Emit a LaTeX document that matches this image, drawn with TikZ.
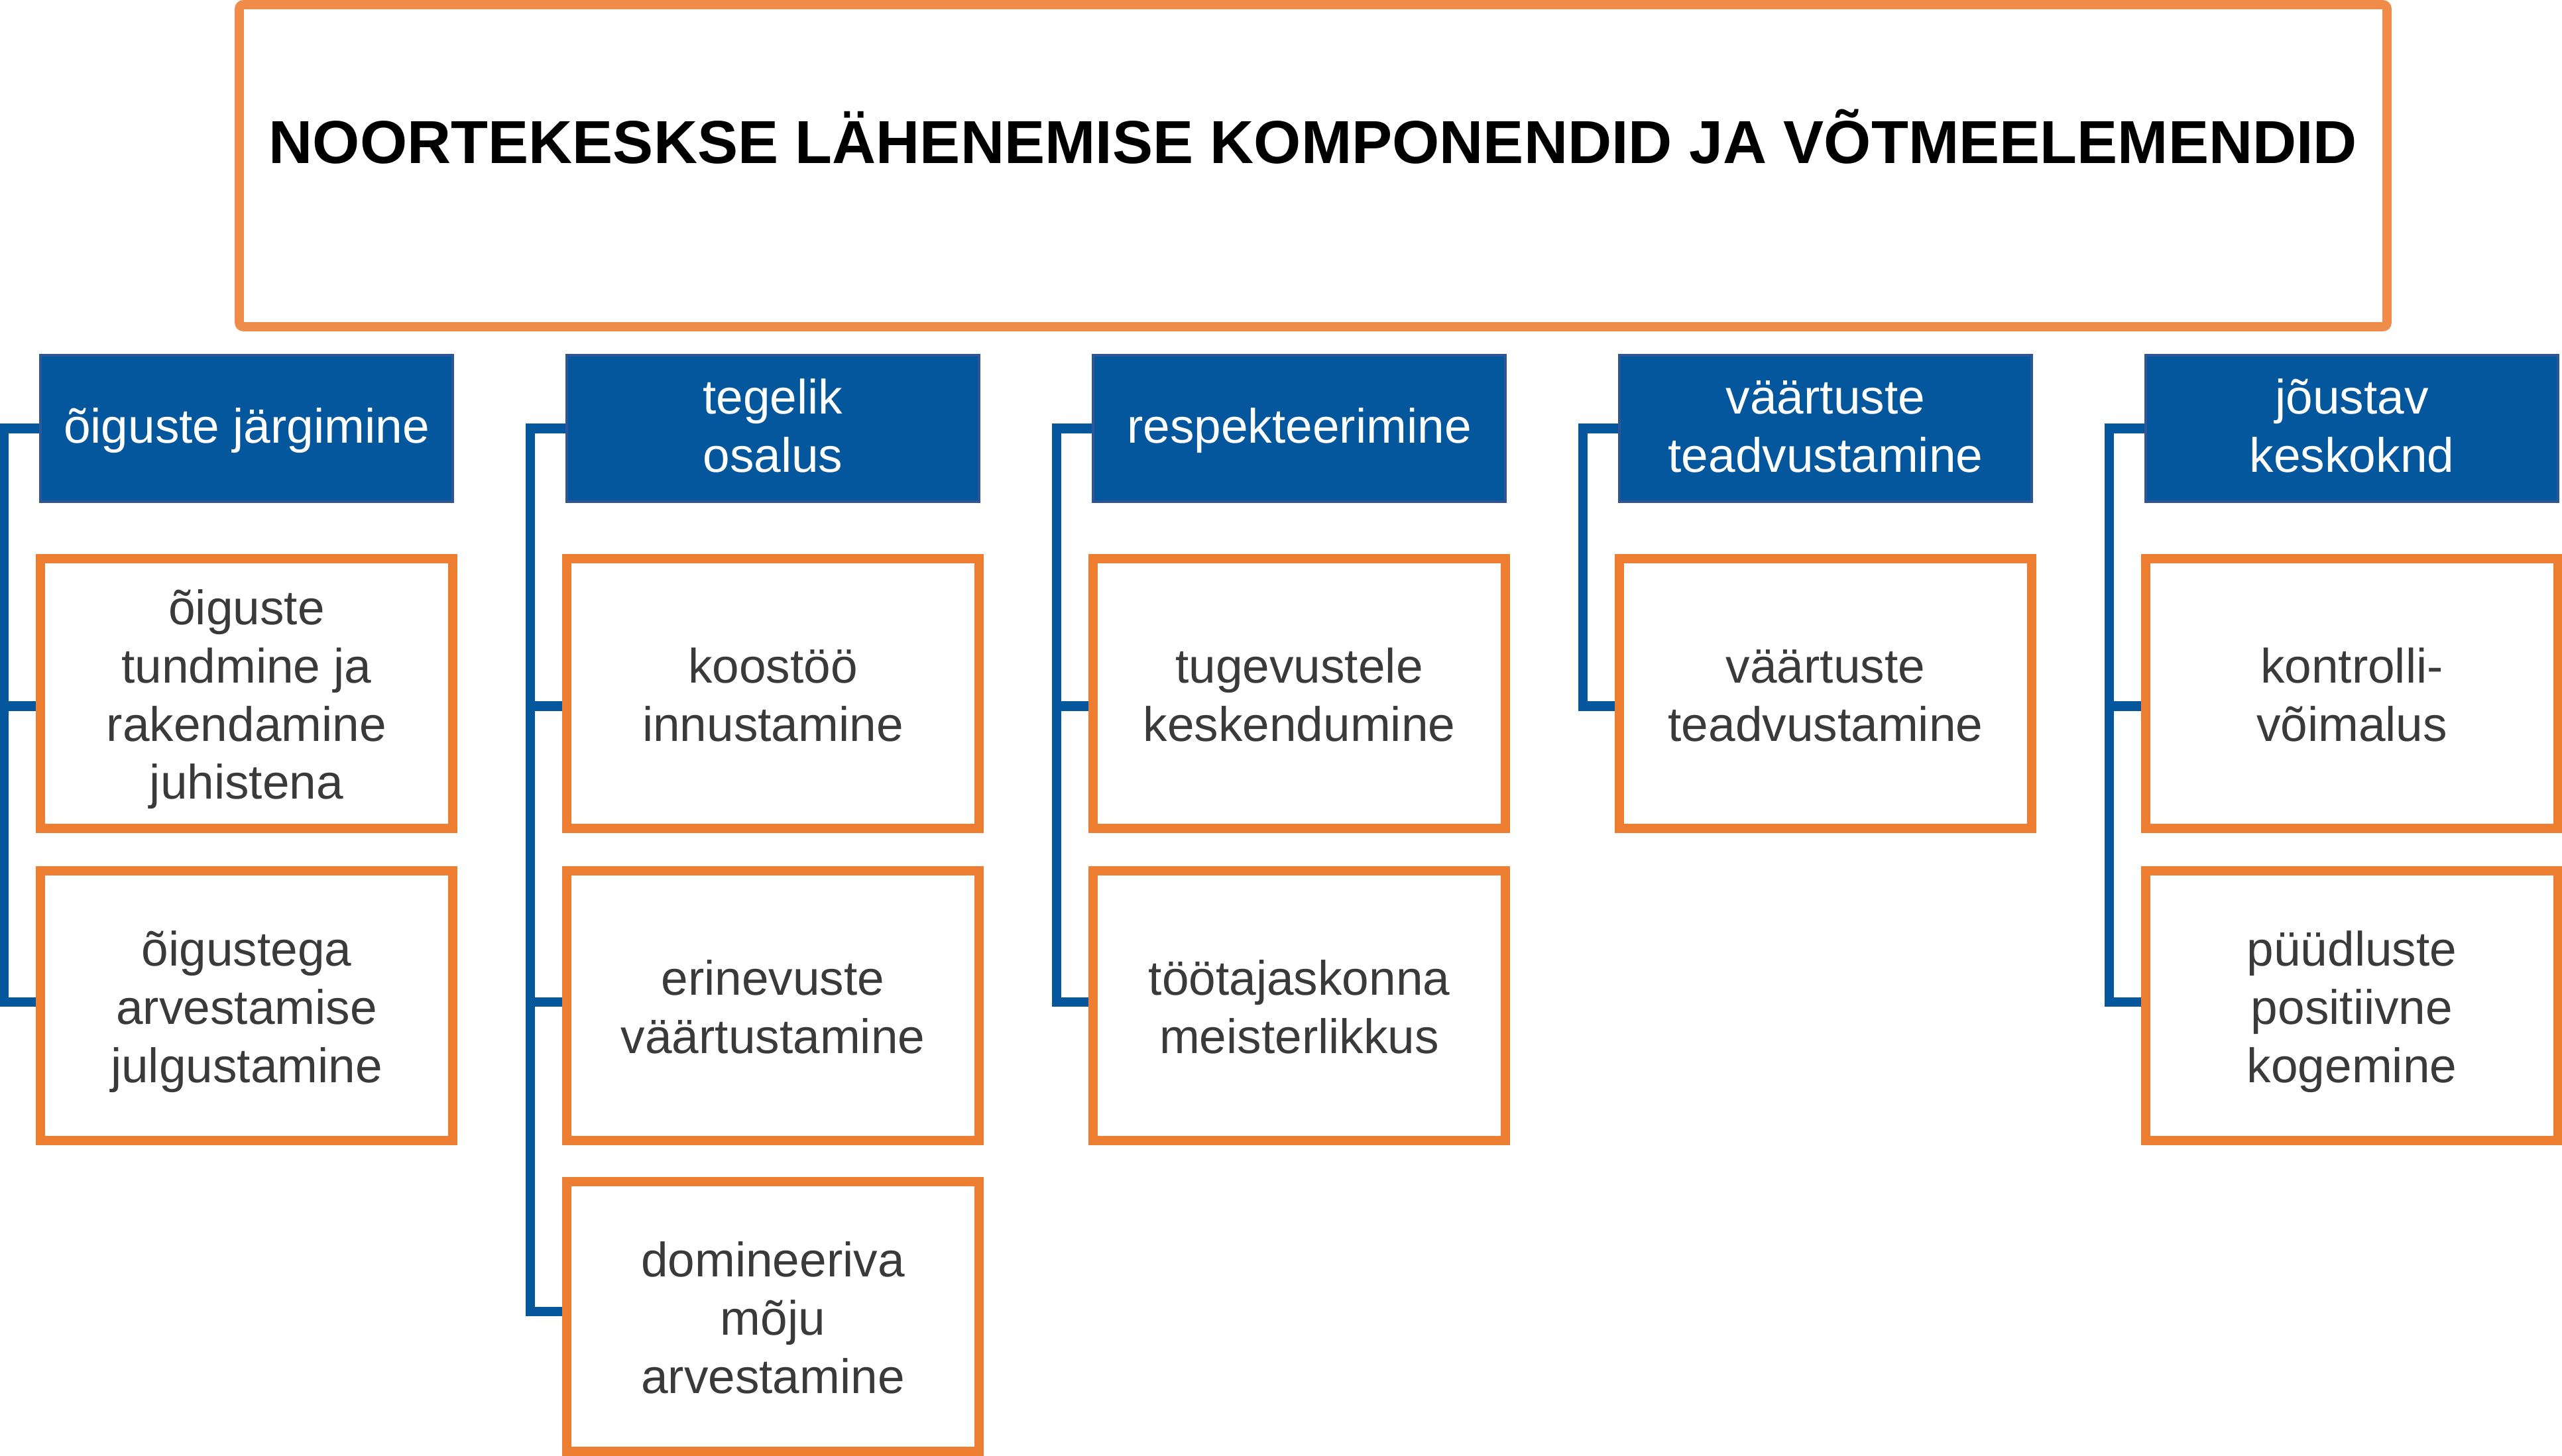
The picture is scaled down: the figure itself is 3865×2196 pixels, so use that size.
\documentclass[tikz,border=0pt]{standalone}
\usepackage{fontspec}
\setmainfont{Liberation Sans}
\definecolor{hdrblue}{HTML}{04569D}
\definecolor{hdrborder}{HTML}{2F5597}
\definecolor{connblue}{HTML}{04569D}
\definecolor{boxorange}{HTML}{ED7D31}
\definecolor{titleorange}{HTML}{F08C4A}
\definecolor{textgrey}{HTML}{3A3A3A}
% struts that fix the vertical centring of the multi-line texts
\newcommand\hdrtop{\rule{0pt}{0.85em}}   % first line of a header
\newcommand\boxtop{\rule{0pt}{1.0em}}    % first line of a box
\newcommand\hdrbot{\rule[-0.25em]{0pt}{0.25em}}
\newcommand\boxbot{\rule[-0.24em]{0pt}{0.24em}}
\begin{document}
\begin{tikzpicture}[x=0.25pt,y=-0.25pt,
  bodyfont/.style={font=\fontsize{18.25}{21.95}\selectfont},
  hdr/.style={draw=hdrborder, line width=1pt, fill=hdrblue, text=white,
    minimum width=155.5pt, minimum height=55.25pt, inner sep=0pt, align=center, bodyfont,
    execute at end node=\hdrbot},
  obox/.style={draw=boxorange, line width=3.5pt, fill=white, text=textgrey,
    minimum width=155.5pt, minimum height=101.75pt, inner sep=0pt, align=center, bodyfont,
    execute at end node=\boxbot},
  conn/.style={draw=connblue, line width=3.6pt},
  titlebox/.style={draw=titleorange, line width=3.4pt, rounded corners=1.5pt,
    minimum width=810pt, minimum height=121.5pt, inner sep=0pt}]
\useasboundingbox (0,0) rectangle (3865,2196);

% title
\node[titlebox] (T) at (1981,250) {};
\node[anchor=base, inner sep=0pt, font=\fontsize{22.9}{27}\selectfont\bfseries] (Tt) at (1981,246)
  {NOORTEKESKSE LÄHENEMISE KOMPONENDID JA VÕTMEELEMENDID};

% headers
\node[hdr] (h1) at (372,646.5) {\hdrtop õiguste järgimine};
\node[hdr] (h2) at (1166,646.5) {\hdrtop tegelik\\osalus};
\node[hdr] (h3) at (1960,646.5) {\hdrtop respekteerimine};
\node[hdr] (h4) at (2754,646.5) {\hdrtop väärtuste\\teadvustamine};
\node[hdr] (h5) at (3548,646.5) {\hdrtop jõustav\\keskoknd};

% boxes
\node[obox] (b11) at (372,1046.5) {\boxtop õiguste\\tundmine ja\\rakendamine\\juhistena};
\node[obox] (b12) at (372,1517.5) {\boxtop õigustega\\arvestamise\\julgustamine};

\node[obox] (b21) at (1166,1046.5) {\boxtop koostöö\\innustamine};
\node[obox] (b22) at (1166,1517.5) {\boxtop erinevuste\\väärtustamine};
\node[obox] (b23) at (1166,1986.5) {\boxtop domineeriva\\mõju\\arvestamine};

\node[obox] (b31) at (1960,1046.5) {\boxtop tugevustele\\keskendumine};
\node[obox] (b32) at (1960,1517.5) {\boxtop töötajaskonna\\meisterlikkus};

\node[obox] (b41) at (2754,1046.5) {\boxtop väärtuste\\teadvustamine};

\node[obox] (b51) at (3548,1046.5) {\boxtop kontrolli-\\võimalus};
\node[obox] (b52) at (3548,1517.5) {\boxtop püüdluste\\positiivne\\kogemine};

% connectors
\draw[conn] (h1.west) -- ++(-53,0) coordinate (v1) |- ([yshift=1.4pt]b12.west);
\draw[conn] ([yshift=-4.75pt]b11.west) -- ([yshift=-4.75pt]b11.west -| v1);

\draw[conn] (h2.west) -- ++(-53,0) coordinate (v2) |- ([yshift=1.9pt]b23.west);
\draw[conn] ([yshift=-4.75pt]b21.west) -- ([yshift=-4.75pt]b21.west -| v2);
\draw[conn] ([yshift=1.4pt]b22.west) -- ([yshift=1.4pt]b22.west -| v2);

\draw[conn] (h3.west) -- ++(-53,0) coordinate (v3) |- ([yshift=1.4pt]b32.west);
\draw[conn] ([yshift=-4.75pt]b31.west) -- ([yshift=-4.75pt]b31.west -| v3);

\draw[conn] (h4.west) -- ++(-53,0) coordinate (v4) |- ([yshift=-4.75pt]b41.west);

\draw[conn] (h5.west) -- ++(-53,0) coordinate (v5) |- ([yshift=1.4pt]b52.west);
\draw[conn] ([yshift=-4.75pt]b51.west) -- ([yshift=-4.75pt]b51.west -| v5);
\end{tikzpicture}
\end{document}
